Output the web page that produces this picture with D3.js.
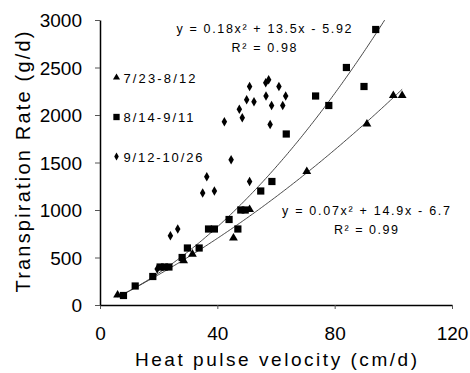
<!DOCTYPE html>
<html>
<head>
<meta charset="utf-8">
<script src="https://cdn.jsdelivr.net/npm/d3@7"></script>
<style>
  body { margin: 0; background: #fff; }
  text { font-family: "Liberation Sans", Arial, sans-serif; fill: #000; }
</style>
</head>
<body>
<script>
// series 7/23-8/12 (triangles)
const triX = [6, 28.5, 31.5, 45.5, 51, 70.5, 91, 100, 103];
const triY = [100, 460, 530, 700, 1000, 1400, 1900, 2200, 2200];

// series 8/14-9/11 (squares)
const sqX = [8, 12, 18, 20.5, 22, 23.5, 28, 29.8, 33.8, 37, 39, 44, 47, 48, 49.5, 54.8, 58.6, 63.5, 73.5, 78, 84, 90, 94];
const sqY = [100, 200, 300, 400, 400, 400, 500, 600, 600, 800, 800, 900, 800, 1000, 1000, 1200, 1300, 1800, 2200, 2100, 2500, 2300, 2900];

// series 9/12-10/26 (diamonds)
const diaX = [19.5, 24, 26.5, 35, 39, 36.4, 44.7, 51, 42.4, 48.5, 47.5, 50, 52.5, 51, 56.5, 57.5, 61, 56.6, 63.3, 58.5, 62.3, 58];
const diaY = [380, 730, 800, 1180, 1200, 1350, 1530, 1300, 1930, 1970, 2060, 2160, 2140, 2300, 2340, 2370, 2300, 2200, 2200, 2100, 2100, 1900];

const seriesNames = ['7/23-8/12', '8/14-9/11', '9/12-10/26'];
const xTicks = [0, 40, 80, 120];
const yTicks = [0, 500, 1000, 1500, 2000, 2500, 3000];

// trend lines: [a, b, c] for a*x^2 + b*x + c, with x span
const fitUpper = [0.18, 13.5, -5.92];
const fitUpperSpan = [7, 99];
const fitLower = [0.07, 14.9, -6.7];
const fitLowerSpan = [6, 103];
const eqUpper = ['y = 0.18x² + 13.5x - 5.92', 'R² = 0.98'];
const eqLower = ['y = 0.07x² + 14.9x - 6.7', 'R² = 0.99'];

const width = 470, height = 373;
const svg = d3.select('body').append('svg')
  .attr('width', width)
  .attr('height', height);

const x = d3.scaleLinear().domain([0, 120]).range([100, 452]);
const y = d3.scaleLinear().domain([0, 3000]).range([305, 20]);

// clip for trend lines
svg.append('clipPath').attr('id', 'plot')
  .append('rect')
  .attr('x', x(0)).attr('y', y(3000))
  .attr('width', x(120) - x(0)).attr('height', y(0) - y(3000));

// axes
const xAxis = svg.append('g')
  .attr('transform', `translate(0,${y(0)})`)
  .call(d3.axisBottom(x).tickValues(xTicks).tickFormat(d3.format('d'))
    .tickSize(4).tickPadding(18).tickSizeOuter(0));
const yAxis = svg.append('g')
  .attr('transform', `translate(${x(0)},0)`)
  .call(d3.axisLeft(y).tickValues(yTicks).tickFormat(d3.format('d'))
    .tickSize(5).tickPadding(13).tickSizeOuter(0));

[xAxis, yAxis].forEach(g => {
  g.select('.domain').attr('stroke', '#000').attr('stroke-width', 1.5);
  g.selectAll('.tick line').attr('stroke', '#555').attr('stroke-width', 1);
  g.selectAll('.tick text')
    .style('font-family', '"Liberation Sans", Arial, sans-serif')
    .style('font-size', '19px');
});
yAxis.selectAll('.tick text').attr('dy', '0.36em');

// trend curves
function curve(fit, span) {
  const pts = d3.range(span[0], span[1] + 0.01, 0.5)
    .map(v => [v, fit[0] * v * v + fit[1] * v + fit[2]]);
  return d3.line().x(d => x(d[0])).y(d => y(d[1]))(pts);
}
svg.append('path').attr('d', curve(fitUpper, fitUpperSpan))
  .attr('fill', 'none').attr('stroke', '#333').attr('stroke-width', 0.9)
  .attr('clip-path', 'url(#plot)');
svg.append('path').attr('d', curve(fitLower, fitLowerSpan))
  .attr('fill', 'none').attr('stroke', '#333').attr('stroke-width', 0.9)
  .attr('clip-path', 'url(#plot)');

// markers
const tri = d3.symbol().type(d3.symbolTriangle).size(34);
const sq = d3.symbol().type(d3.symbolSquare).size(52);
const dia = d3.symbol().type(d3.symbolDiamond).size(26);

svg.append('g').selectAll('path')
  .data(diaX.map((v, i) => [v, diaY[i]]))
  .join('path')
  .attr('d', dia)
  .attr('transform', d => `translate(${x(d[0])},${y(d[1])})`);

svg.append('g').selectAll('path')
  .data(sqX.map((v, i) => [v, sqY[i]]))
  .join('path')
  .attr('d', sq)
  .attr('transform', d => `translate(${x(d[0])},${y(d[1])})`);

svg.append('g').selectAll('path')
  .data(triX.map((v, i) => [v, triY[i]]))
  .join('path')
  .attr('d', tri)
  .attr('transform', d => `translate(${x(d[0])},${y(d[1]) - 0.5})`);

// legend
const legendSyms = [
  d3.symbol().type(d3.symbolTriangle).size(22),
  d3.symbol().type(d3.symbolSquare).size(40),
  d3.symbol().type(d3.symbolDiamond).size(18)
];
const legendLens = [72, 70, 79];
seriesNames.forEach((name, i) => {
  const cy = 77.5 + i * 39.5;
  svg.append('path').attr('d', legendSyms[i])
    .attr('transform', `translate(116.5,${cy})`);
  svg.append('text')
    .attr('x', 123.5).attr('y', cy + 5)
    .attr('font-size', 13)
    .attr('textLength', legendLens[i])
    .attr('lengthAdjust', 'spacing')
    .text(name);
});

// equations
function eq(lines, cx, y0, lens) {
  lines.forEach((t, i) => {
    svg.append('text')
      .attr('x', cx).attr('y', y0 + i * 19)
      .attr('text-anchor', 'middle')
      .attr('font-size', 12.5)
      .attr('textLength', lens[i])
      .attr('lengthAdjust', 'spacing')
      .text(t);
  });
}
eq(eqUpper, 264, 33, [175, 65]);
eq(eqLower, 366, 215, [168, 64]);

// axis titles
svg.append('text')
  .attr('x', 276).attr('y', 366)
  .attr('text-anchor', 'middle')
  .attr('font-size', 19)
  .attr('textLength', 282)
  .attr('lengthAdjust', 'spacing')
  .text('Heat pulse velocity (cm/d)');

svg.append('text')
  .attr('transform', 'translate(30,162) rotate(-90)')
  .attr('text-anchor', 'middle')
  .attr('font-size', 20)
  .attr('textLength', 261)
  .attr('lengthAdjust', 'spacing')
  .text('Transpiration Rate (g/d)');
</script>
</body>
</html>
